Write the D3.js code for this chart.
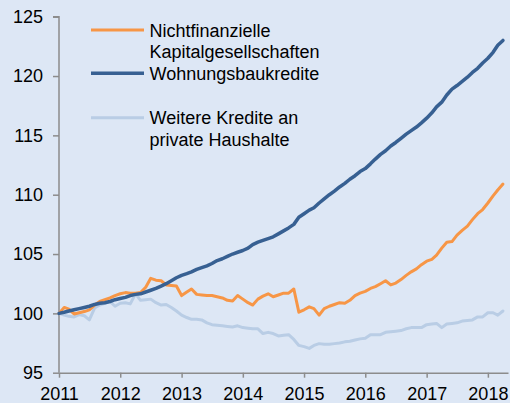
<!DOCTYPE html>
<html>
<head>
<meta charset="utf-8">
<style>
    body { margin: 0; background: #dde7f5; }
    svg { display: block; }
    text { font-family: "Liberation Sans", Arial, sans-serif; fill: #000; }
</style>
</head>
<body>
<div id="chart"></div>
<script src="https://d3js.org/d3.v7.min.js"></script>
<script>
    // Monatswerte Jan 2011 - Apr 2018, Index Jan 2011 = 100
    const startYear = 2011;
    const startMonth = 0;

    const nichtfinanzielle = [
        100.0, 100.5, 100.35, 99.95, 100.05, 100.15, 100.3, 100.7, 101.0, 101.15, 101.3, 101.5,
        101.65, 101.75, 101.7, 101.7, 101.75, 102.2, 102.95, 102.8, 102.75, 102.4, 102.35, 102.3,
        101.5, 101.8, 102.05, 101.6, 101.55, 101.5, 101.5, 101.4, 101.3, 101.1, 101.05, 101.5,
        101.2, 100.9, 100.7, 101.2, 101.45, 101.65, 101.4, 101.55, 101.7, 101.7, 102.05, 100.1,
        100.3, 100.55, 100.4, 99.85, 100.4, 100.6, 100.75, 100.9, 100.85, 101.1, 101.5, 101.7,
        101.85, 102.1, 102.25, 102.5, 102.75, 102.4, 102.55, 102.85, 103.2, 103.5, 103.75, 104.1,
        104.4, 104.55, 104.9, 105.5, 106.0, 106.05, 106.6, 107.0, 107.35, 107.9, 108.4, 108.75,
        109.3, 109.9, 110.4, 110.9
    ];

    const wohnungsbau = [
        100.0, 100.1, 100.2, 100.3, 100.4, 100.5, 100.6, 100.75, 100.85, 100.9, 101.0, 101.15,
        101.25, 101.35, 101.5, 101.6, 101.65, 101.8, 101.95, 102.1, 102.3, 102.5, 102.75, 103.0,
        103.2, 103.35, 103.5, 103.7, 103.85, 104.0, 104.2, 104.45, 104.6, 104.8, 105.0, 105.15,
        105.3, 105.5, 105.8, 106.0, 106.15, 106.3, 106.45, 106.7, 106.95, 107.2, 107.5, 108.1,
        108.4, 108.7, 108.9, 109.3, 109.65, 110.0, 110.3, 110.65, 110.95, 111.3, 111.6, 111.95,
        112.2, 112.6, 113.0, 113.4, 113.7, 114.1, 114.4, 114.75, 115.1, 115.4, 115.7, 116.05,
        116.45, 116.9, 117.4, 117.8, 118.4, 118.9, 119.2, 119.55, 119.9, 120.3, 120.65, 121.1,
        121.5, 122.0, 122.6, 123.0
    ];

    const weitere = [
        100.0, 99.85, 99.75, 99.7, 99.9, 99.8, 99.45, 100.45, 100.7, 100.85, 101.0, 100.6,
        100.85, 100.9, 100.8, 101.65, 101.1, 101.15, 101.2, 100.9, 100.7, 100.75, 100.5, 100.2,
        99.85, 99.65, 99.5, 99.5, 99.45, 99.2, 99.05, 99.0, 98.95, 98.9, 98.85, 98.95,
        98.8, 98.75, 98.7, 98.7, 98.3, 98.4, 98.3, 98.1, 98.15, 98.2, 97.8, 97.3,
        97.2, 97.05, 97.3, 97.45, 97.4, 97.4, 97.45, 97.5, 97.6, 97.65, 97.75, 97.85,
        97.9, 98.2, 98.2, 98.2, 98.4, 98.45, 98.5, 98.55, 98.7, 98.8, 98.8, 98.8,
        99.05, 99.1, 99.15, 98.8, 99.1, 99.15, 99.2, 99.35, 99.4, 99.45, 99.7, 99.7,
        100.05, 100.05, 99.85, 100.2
    ];

    const yTicks = [95, 100, 105, 110, 115, 120, 125];
    const xTickYears = [2011, 2012, 2013, 2014, 2015, 2016, 2017, 2018];

    const series = [
        { name: ["Weitere Kredite an", "private Haushalte"], values: weitere, color: "#b9cde5", width: 3 },
        { name: ["Nichtfinanzielle", "Kapitalgesellschaften"], values: nichtfinanzielle, color: "#f79646", width: 3 },
        { name: ["Wohnungsbaukredite"], values: wohnungsbau, color: "#376092", width: 3.5 }
    ];

    const width = 510;
    const height = 403;

    const svg = d3.select("#chart")
        .append("svg")
        .attr("width", width)
        .attr("height", height);

    svg.append("rect")
        .attr("width", width)
        .attr("height", height)
        .attr("fill", "#dde7f5");

    const x = d3.scaleTime()
        .domain([new Date(2011, 0, 1), new Date(2018, 4, 1)])
        .range([59, 508]);

    const y = d3.scaleLinear()
        .domain([95, 125])
        .range([372.7, 16.7]);

    const dateAt = i => new Date(startYear, startMonth + i, 1);

    // Achsen
    const yAxis = svg.append("g")
        .attr("transform", "translate(59,0)")
        .call(d3.axisLeft(y).tickValues(yTicks).tickSize(6).tickPadding(10));

    const xAxis = svg.append("g")
        .attr("transform", "translate(0,372.7)")
        .call(d3.axisBottom(x)
            .tickValues(xTickYears.map(yr => new Date(yr, 0, 1)))
            .tickFormat(d3.timeFormat("%Y"))
            .tickSizeInner(5)
            .tickSizeOuter(0)
            .tickPadding(10));

    [yAxis, xAxis].forEach(ax => {
        ax.select(".domain").attr("stroke", "#8c8c8c").attr("stroke-width", 1.5);
        ax.selectAll(".tick line").attr("stroke", "#8c8c8c").attr("stroke-width", 1.5);
        ax.selectAll("text")
            .attr("font-size", "18px")
            .attr("font-family", "'Liberation Sans', Arial, sans-serif")
            .attr("fill", "#000");
    });
    yAxis.select(".domain").attr("d", "M-6,16.7H0V372.7");

    // Linien
    const line = d3.line()
        .x((d, i) => x(dateAt(i)))
        .y(d => y(d));

    svg.append("g")
        .selectAll("path")
        .data(series)
        .enter().append("path")
        .attr("fill", "none")
        .attr("stroke", d => d.color)
        .attr("stroke-width", d => d.width)
        .attr("stroke-linejoin", "round")
        .attr("stroke-linecap", "round")
        .attr("d", d => line(d.values));

    // Legende
    const legendOrder = [series[1], series[2], series[0]];
    const legendY = [30, 73.3, 117.7];

    const legend = svg.append("g");
    legendOrder.forEach((s, k) => {
        legend.append("line")
            .attr("x1", 91).attr("x2", 144)
            .attr("y1", legendY[k]).attr("y2", legendY[k])
            .attr("stroke", s.color)
            .attr("stroke-width", s.width);

        const t = legend.append("text")
            .attr("x", 149.5)
            .attr("y", legendY[k] + 6.5)
            .attr("font-size", "18px");
        s.name.forEach((part, j) => {
            t.append("tspan")
                .attr("x", 149.5)
                .attr("dy", j === 0 ? 0 : 21.7)
                .text(part);
        });
    });
</script>
</body>
</html>
